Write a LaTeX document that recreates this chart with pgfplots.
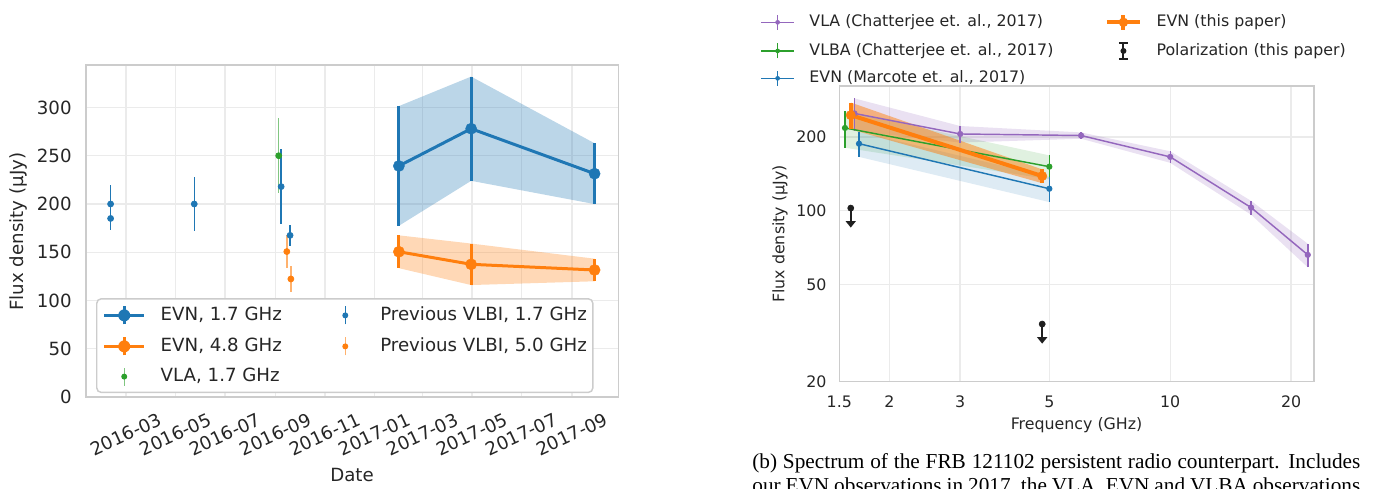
\documentclass[border=0pt]{standalone}
\usepackage{fontspec}
\setmainfont{DejaVu Sans}
\newfontfamily\capfont{Liberation Serif}
\usepackage{pgfplots}
\pgfplotsset{compat=1.18}
\usepackage{pgfplotstable}
\usepgfplotslibrary{fillbetween}
\usetikzlibrary{arrows.meta}

\definecolor{tblue}{HTML}{1F77B4}
\definecolor{torange}{HTML}{FF7F0E}
\definecolor{tgreen}{HTML}{2CA02C}
\definecolor{tpurple}{HTML}{9467BD}
\definecolor{txt}{HTML}{262626}
\definecolor{gridc}{HTML}{EBEBEB}
\definecolor{framec}{HTML}{CCCCCC}

\newcommand\fl{\fontsize{10}{12}\selectfont}
\newcommand\fr{\fontsize{8.7}{10.4}\selectfont}

% light curve: day since 2016-01-01, value, error (uJy)
\pgfplotstableread{
d v e
396 239.4 62
485 278.0 54
637 231.4 31.5
}\evnL
\pgfplotstableread{
d v e
396 150.5 17
485 137.5 21.5
637 131.6 11.7
}\evnC
\pgfplotstableread{
d v e
41 200 20
41 185 12
144 200 28
251 218 38.5
262 167.5 11
}\prvL
\pgfplotstableread{
d v e
258 150.7 17.5
263 122.3 13.6
}\prvC
\pgfplotstableread{
d v e
248 250 39
}\vlaL

% spectrum: frequency (GHz), value, error
\pgfplotstableread{
f v e
1.636 250 38
3.0 206 16
6.0 203 6
10.0 166 9
15.9 103 6.7
22.0 66 7.3
}\vlaR
\pgfplotstableread{
f v e
1.55 218 37
5.0 151.4 17
}\vlbaR
\pgfplotstableread{
f v e
1.68 188 22
5.0 123 14.5
}\mrcR
\pgfplotstableread{
f v e
1.602 246 31
4.80 138.6 9
}\evnR
\pgfplotstableread{
f v e
1.602 102.5 17.2
4.80 34.4 5.8
}\polR

\pgfplotsset{
  seab/.style={scale only axis, anchor=south west,
    axis line style={framec, line width=0.8pt},
    xmajorgrids, ymajorgrids, major grid style={gridc, line width=0.8pt},
    major tick length=0pt, minor tick length=0pt,
    tick label style={txt, inner sep=0pt},
    legend cell align=left},
}

\begin{document}
\begin{tikzpicture}
% ---------------- (a) light curve
\begin{axis}[seab, at={(47.3pt,-218.35pt)}, width=292.9pt, height=182.6pt,
  xmin=10.7, xmax=666.5, ymin=0, ymax=344,
  xtick={60,121,182,244,305,366,425,486,547,609},
  xticklabels={2016-03,2016-05,2016-07,2016-09,2016-11,2017-01,2017-03,2017-05,2017-07,2017-09},
  ytick={0,50,100,150,200,250,300},
  yticklabels={0,50,100,150,200,250,300},
  tick label style={font=\fl},
  xticklabel style={yshift=-20.6pt, rotate=25, anchor=center},
  yticklabel style={anchor=east, xshift=-7.7pt},
  legend columns=2,
  legend style={at={(0.0188,0.298)}, anchor=north west, draw=framec, line width=0.8pt,
    rounded corners=2.5pt, fill=white, inner sep=3.3pt, font=\fl, text=txt,
    row sep=5.4pt, nodes={inner sep=0pt},
    /tikz/every odd column/.append style={column sep=8.25pt}},
]
\addplot[name path=lu, draw=none, forget plot] table[x=d, y expr=\thisrow{v}+\thisrow{e}] {\evnL};
\addplot[name path=ll, draw=none, forget plot] table[x=d, y expr=\thisrow{v}-\thisrow{e}] {\evnL};
\addplot[fill=tblue, fill opacity=0.3, draw=none, forget plot] fill between[of=lu and ll];
\addplot[name path=cu, draw=none, forget plot] table[x=d, y expr=\thisrow{v}+\thisrow{e}] {\evnC};
\addplot[name path=cl, draw=none, forget plot] table[x=d, y expr=\thisrow{v}-\thisrow{e}] {\evnC};
\addplot[fill=torange, fill opacity=0.3, draw=none, forget plot] fill between[of=cu and cl];

\addplot[forget plot, only marks, tgreen, mark=*, mark size=1.65pt,
  error bars/.cd, y dir=both, y explicit, error mark=none,
  error bar style={line width=0.8pt, tgreen!60}] table[x=d, y=v, y error=e] {\vlaL};
\addplot[forget plot, only marks, tblue, mark=*, mark size=1.65pt,
  error bars/.cd, y dir=both, y explicit, error mark=none,
  error bar style={line width=0.8pt}] table[x=d, y=v, y error=e] {\prvL};
\addplot[forget plot, only marks, torange, mark=*, mark size=1.65pt,
  error bars/.cd, y dir=both, y explicit, error mark=none,
  error bar style={line width=0.8pt, torange!60}] table[x=d, y=v, y error=e] {\prvC};
\addplot[forget plot, tblue, line width=1.65pt, mark=*, mark size=3.1pt, mark options={line width=0.2pt},
  error bars/.cd, y dir=both, y explicit, error mark=none,
  error bar style={line width=1.65pt}] table[x=d, y=v, y error=e] {\evnL};
\addplot[forget plot, torange, line width=1.65pt, mark=*, mark size=3.1pt, mark options={line width=0.2pt},
  error bars/.cd, y dir=both, y explicit, error mark=none,
  error bar style={line width=1.65pt}] table[x=d, y=v, y error=e] {\evnC};

\addlegendimage{legend image code/.code={
  \draw[tblue, line width=1.65pt] (0pt,0pt) -- (22pt,0pt);
  \draw[tblue, line width=1.65pt] (11pt,-5pt) -- (11pt,5pt);
  \fill[tblue, draw=none] (11pt,0pt) circle (3.3pt);}}
\addlegendentry{\makebox[90.5pt][l]{EVN, 1.7 GHz}}
\addlegendimage{legend image code/.code={
  \path[draw=none] (0pt,0pt) -- (22pt,0pt);
  \draw[tblue, line width=0.8pt] (11pt,-5pt) -- (11pt,5pt);
  \fill[tblue, draw=none] (11pt,0pt) circle (1.65pt);}}
\addlegendentry{Previous VLBI, 1.7 GHz}
\addlegendimage{legend image code/.code={
  \draw[torange, line width=1.65pt] (0pt,0pt) -- (22pt,0pt);
  \draw[torange, line width=1.65pt] (11pt,-5pt) -- (11pt,5pt);
  \fill[torange, draw=none] (11pt,0pt) circle (3.3pt);}}
\addlegendentry{\makebox[90.5pt][l]{EVN, 4.8 GHz}}
\addlegendimage{legend image code/.code={
  \path[draw=none] (0pt,0pt) -- (22pt,0pt);
  \draw[torange!60, line width=0.8pt] (11pt,-5pt) -- (11pt,5pt);
  \fill[torange, draw=none] (11pt,0pt) circle (1.65pt);}}
\addlegendentry{Previous VLBI, 5.0 GHz}
\addlegendimage{legend image code/.code={
  \path[draw=none] (0pt,0pt) -- (22pt,0pt);
  \draw[tgreen!60, line width=0.8pt] (11pt,-5pt) -- (11pt,5pt);
  \fill[tgreen, draw=none] (11pt,0pt) circle (1.65pt);}}
\addlegendentry{\makebox[90.5pt][l]{VLA, 1.7 GHz}}
\end{axis}

% ---------------- (b) spectrum
\begin{axis}[seab, at={(461.6pt,-209.9pt)}, width=261.1pt, height=162.6pt,
  xmode=log, ymode=log, xmin=1.5, xmax=22.8, ymin=20, ymax=323.6,
  xtick={1.5,2,3,5,10,20}, xticklabels={1.5,2,3,5,10,20},
  ytick={20,50,100,200}, yticklabels={20,50,100,200},
  xminorticks=false, yminorticks=false,
  tick label style={font=\fr},
  xticklabel style={anchor=base, yshift=-14.1pt},
  yticklabel style={anchor=east, xshift=-6.8pt},
  legend columns=2,
  legend style={at={(-0.167,1.2487)}, anchor=north west, draw=none, fill=none,
    inner sep=0pt, font=\fr, text=txt, row sep=5.5pt, nodes={inner sep=0pt},
    /tikz/every odd column/.append style={column sep=8pt}},
]
\addplot[name path=pu, draw=none, forget plot] table[x=f, y expr=\thisrow{v}+\thisrow{e}] {\vlaR};
\addplot[name path=pl, draw=none, forget plot] table[x=f, y expr=\thisrow{v}-\thisrow{e}] {\vlaR};
\addplot[fill=tpurple, fill opacity=0.2, draw=none, forget plot] fill between[of=pu and pl];
\addplot[name path=gu, draw=none, forget plot] table[x=f, y expr=\thisrow{v}+\thisrow{e}] {\vlbaR};
\addplot[name path=gl, draw=none, forget plot] table[x=f, y expr=\thisrow{v}-\thisrow{e}] {\vlbaR};
\addplot[fill=tgreen, fill opacity=0.15, draw=none, forget plot] fill between[of=gu and gl];
\addplot[name path=bu, draw=none, forget plot] table[x=f, y expr=\thisrow{v}+\thisrow{e}] {\mrcR};
\addplot[name path=bl, draw=none, forget plot] table[x=f, y expr=\thisrow{v}-\thisrow{e}] {\mrcR};
\addplot[fill=tblue, fill opacity=0.15, draw=none, forget plot] fill between[of=bu and bl];
\addplot[name path=ou, draw=none, forget plot] table[x=f, y expr=\thisrow{v}+\thisrow{e}] {\evnR};
\addplot[name path=ol, draw=none, forget plot] table[x=f, y expr=\thisrow{v}-\thisrow{e}] {\evnR};
\addplot[fill=torange, fill opacity=0.5, draw=none, forget plot] fill between[of=ou and ol];

\addplot[forget plot, tpurple, line width=0.8pt, mark=*, mark size=1.3pt,
  error bars/.cd, y dir=both, y explicit, error mark=none,
  error bar style={line width=0.8pt}] table[x=f, y=v, y error=e] {\vlaR};
\addplot[forget plot, tgreen, line width=0.8pt, mark=*, mark size=1.3pt,
  error bars/.cd, y dir=both, y explicit, error mark=none,
  error bar style={line width=0.8pt}] table[x=f, y=v, y error=e] {\vlbaR};
\addplot[forget plot, tblue, line width=0.8pt, mark=*, mark size=1.3pt,
  error bars/.cd, y dir=both, y explicit, error mark=none,
  error bar style={line width=0.8pt}] table[x=f, y=v, y error=e] {\mrcR};
\addplot[forget plot, torange, line width=2.2pt, mark=*, mark size=2.6pt, mark options={line width=0.2pt},
  error bars/.cd, y dir=both, y explicit, error mark=none,
  error bar style={line width=2.2pt}] table[x=f, y=v, y error=e] {\evnR};
\addplot[forget plot, only marks, black!88, mark=*, mark size=1.65pt,
  error bars/.cd, y dir=minus, y explicit, error mark=none,
  error bar style={line width=1.1pt, -{Triangle[width=5.5pt,length=3.6pt]}}]
  table[x=f, y=v, y error=e] {\polR};

\addlegendimage{legend image code/.code={
  \draw[tpurple, line width=0.8pt] (0pt,0pt) -- (18.2pt,0pt);
  \draw[tpurple, line width=0.8pt] (9.1pt,-4.1pt) -- (9.1pt,4.1pt);
  \fill[tpurple, draw=none] (9.1pt,0pt) circle (1.3pt);}}
\addlegendentry{\makebox[162.5pt][l]{VLA (Chatterjee et. al., 2017)}}
\addlegendimage{legend image code/.code={
  \draw[torange, line width=2.2pt] (0pt,0pt) -- (18.2pt,0pt);
  \draw[torange, line width=2.2pt] (9.1pt,-4.1pt) -- (9.1pt,4.1pt);
  \fill[torange, draw=none] (9.1pt,0pt) circle (2.6pt);}}
\addlegendentry{EVN (this paper)}
\addlegendimage{legend image code/.code={
  \draw[tgreen, line width=0.8pt] (0pt,0pt) -- (18.2pt,0pt);
  \draw[tgreen, line width=0.8pt] (9.1pt,-4.1pt) -- (9.1pt,4.1pt);
  \fill[tgreen, draw=none] (9.1pt,0pt) circle (1.3pt);}}
\addlegendentry{\makebox[162.5pt][l]{VLBA (Chatterjee et. al., 2017)}}
\addlegendimage{legend image code/.code={
  \path[draw=none] (0pt,0pt) -- (18.2pt,0pt);
  \draw[black!88, line width=1.1pt] (9.1pt,-4.5pt) -- (9.1pt,4.5pt);
  \draw[black!88, line width=1.1pt] (6.6pt,-4.5pt) -- (11.6pt,-4.5pt);
  \draw[black!88, line width=1.1pt] (6.6pt,4.5pt) -- (11.6pt,4.5pt);
  \fill[black!88, draw=none] (9.1pt,0pt) circle (1.65pt);}}
\addlegendentry{Polarization (this paper)}
\addlegendimage{legend image code/.code={
  \draw[tblue, line width=0.8pt] (0pt,0pt) -- (18.2pt,0pt);
  \draw[tblue, line width=0.8pt] (9.1pt,-4.1pt) -- (9.1pt,4.1pt);
  \fill[tblue, draw=none] (9.1pt,0pt) circle (1.3pt);}}
\addlegendentry{\makebox[162.5pt][l]{EVN (Marcote et. al., 2017)}}
\end{axis}

% axis titles
\node[rotate=90, font=\fl, text=txt] at (10.1pt,-127.4pt) {Flux density (µJy)};
\node[anchor=base, font=\fl, text=txt] at (193.6pt,-264.9pt) {Date};
\node[rotate=90, font=\fr, text=txt] at (429pt,-128.7pt) {Flux density (µJy)};
\node[anchor=base, font=\fr, text=txt] at (592.1pt,-236pt) {Frequency (GHz)};

% caption of panel (b), cut by the page edge
\node[anchor=base west, inner sep=0pt, font=\capfont\fontsize{11.7}{14}\selectfont] at (413.6pt,-257.4pt)
  {\makebox[334.4pt][s]{(b) Spectrum of the FRB 121102 persistent radio counterpart. Includes}};
\node[anchor=base west, inner sep=0pt, font=\capfont\fontsize{11.7}{14}\selectfont] at (413.6pt,-271pt)
  {\makebox[334.4pt][s]{our EVN observations in 2017, the VLA, EVN and VLBA observations}};

\pgfresetboundingbox
\path[use as bounding box] (0pt,0pt) rectangle (757.9pt,-268.4pt);
\end{tikzpicture}
\end{document}
